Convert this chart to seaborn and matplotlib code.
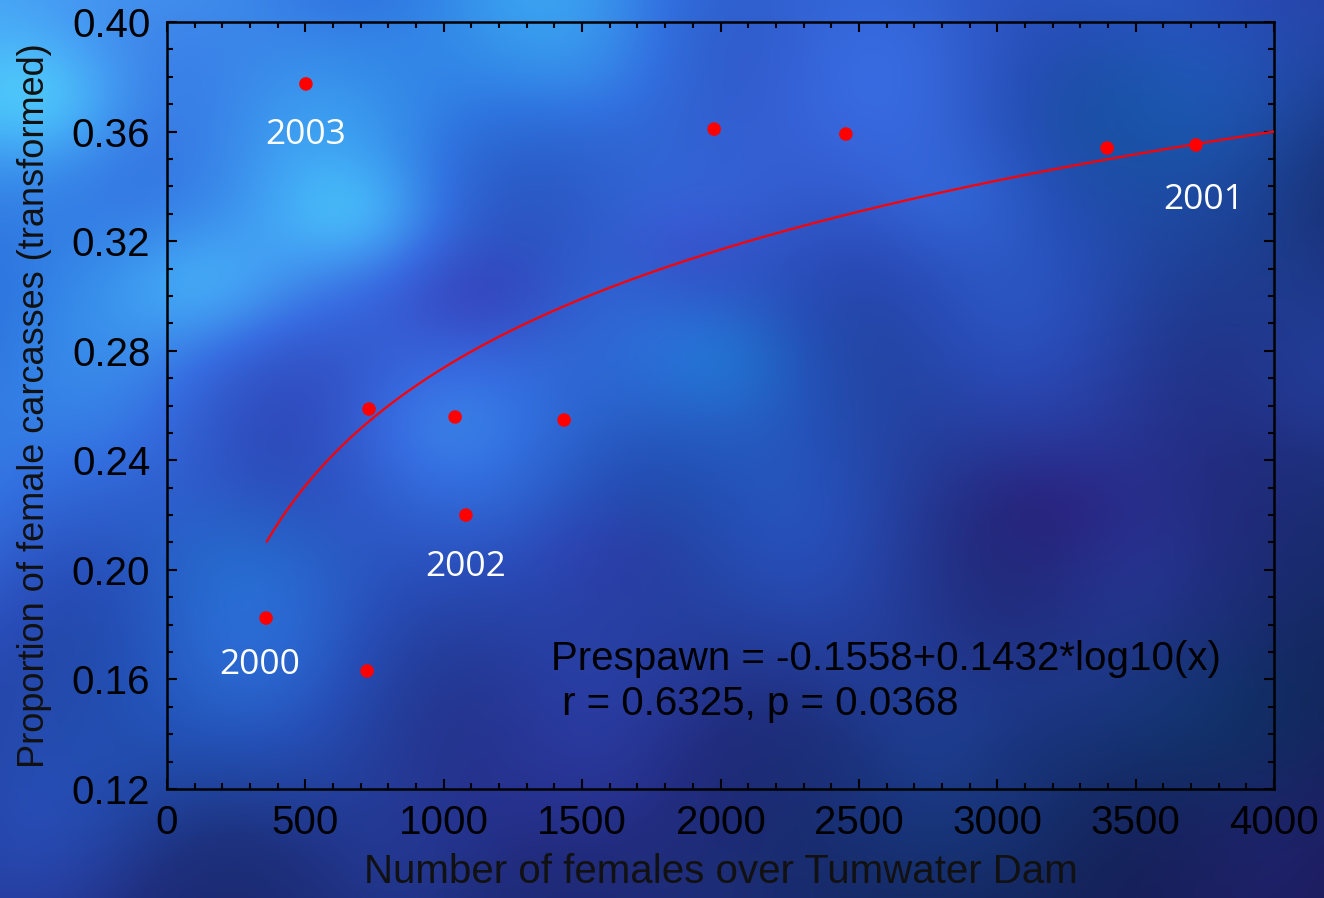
import numpy as np
import pandas as pd
import matplotlib
matplotlib.use("Agg")
import matplotlib.pyplot as plt
from matplotlib.ticker import MultipleLocator
import seaborn as sns

# ---- data ----
females = [502, 1977, 2453, 3397, 3718, 730, 1041, 1435, 1080, 358, 723]
proportion = [0.3774, 0.3609, 0.3591, 0.3540, 0.3551, 0.2587, 0.2558, 0.2547,
              0.2200, 0.1824, 0.1631]
year_labels = ["2003", "2001", "2002", "2000"]
year_label_x = [502, 3745, 1080, 335]
year_label_y = [0.3587, 0.3350, 0.2010, 0.1652]
fit_intercept = -0.1558
fit_slope = 0.1432
fit_x_range = [360, 4000]
x_ticks = [0, 500, 1000, 1500, 2000, 2500, 3000, 3500, 4000]
y_ticks = [0.12, 0.16, 0.20, 0.24, 0.28, 0.32, 0.36, 0.40]
eq_line1 = "Prespawn = -0.1558+0.1432*log10(x)"
eq_line2 = " r = 0.6325, p = 0.0368"

df = pd.DataFrame({"females": females, "proportion": proportion})
fx = np.linspace(fit_x_range[0], fit_x_range[1], 300)
fit_df = pd.DataFrame({"females": fx,
                       "proportion": fit_intercept + fit_slope * np.log10(fx)})

sns.set_theme(style="white")
plt.rcParams["font.family"] = ["Liberation Sans", "DejaVu Sans"]

fig = plt.figure(figsize=(13.24, 8.98), dpi=100)

# ---- decorative mottled blue background (deterministic pattern) ----
bg = fig.add_axes([0, 0, 1, 1], zorder=0)
H, W = 180, 265
yy, xx = np.mgrid[0:1:H * 1j, 0:1:W * 1j]   # yy: 0 at top


def blob(cx, cy, s):
    return np.exp(-((xx - cx) ** 2 + (yy - cy) ** 2) / s)


b = 0.75 - 0.15 * xx - 0.25 * yy - 0.20 * xx ** 2 - 0.20 * yy ** 3
b += 0.045 * np.sin(13 * xx + 2.0) * np.cos(11 * yy + 1.0)
b += 0.035 * np.sin(19 * xx + 14 * yy + 0.5)
b += 0.03 * np.cos(27 * xx - 9 * yy + 1.3)
for cx, cy, s, a in [(0.03, 0.11, 0.005, 0.16), (0.16, 0.32, 0.005, 0.14),
                     (0.27, 0.24, 0.004, 0.12), (0.45, 0.07, 0.006, 0.06),
                     (0.31, 0.48, 0.006, 0.07), (0.55, 0.42, 0.006, 0.05),
                     (0.83, 0.78, 0.005, 0.05), (0.72, 0.22, 0.004, 0.05)]:
    b += a * blob(cx, cy, s)
for cx, cy, s, a in [(0.99, 0.55, 0.01, 0.08), (0.99, 0.20, 0.01, 0.06),
                     (0.35, 0.33, 0.004, 0.06), (0.52, 0.30, 0.004, 0.06),
                     (0.80, 0.56, 0.005, 0.04)]:
    b -= a * blob(cx, cy, s)
b = np.clip(b, 0, 1)

hue = 0.35 * np.sin(10 * xx + 3 * yy + 1.0) * np.cos(8 * yy - 2 * xx + 0.3)
hue += 0.5 * blob(0.36, 0.33, 0.004) + 0.5 * blob(0.52, 0.27, 0.003)
hue += 0.3 * blob(0.80, 0.56, 0.004) + 0.4 * blob(0.46, 0.62, 0.004)
hue -= 0.6 * blob(0.85, 0.12, 0.01) + 0.5 * blob(0.55, 0.40, 0.003)
hue -= 0.5 * blob(0.92, 0.80, 0.01) + 0.4 * blob(0.18, 0.62, 0.005)

stops_b = np.array([0.0, 0.25, 0.45, 0.62, 0.8, 1.0])
stops_c = np.array([[0.09, 0.13, 0.36],
                    [0.12, 0.19, 0.50],
                    [0.16, 0.30, 0.72],
                    [0.20, 0.44, 0.88],
                    [0.26, 0.66, 0.96],
                    [0.32, 0.90, 1.00]])
rgb = np.stack([np.interp(b, stops_b, stops_c[:, k]) for k in range(3)], axis=-1)
rgb[..., 0] += 0.06 * hue
rgb[..., 1] -= 0.07 * hue
rgb = np.clip(rgb, 0, 1)
bg.imshow(rgb, aspect="auto", extent=[0, 1, 0, 1], interpolation="bicubic")
bg.set_axis_off()

# ---- main axes ----
ax = fig.add_axes([167 / 1324, 1 - 789 / 898, (1274 - 167) / 1324, (789 - 22) / 898],
                  zorder=1)
ax.patch.set_alpha(0)

sns.lineplot(data=fit_df, x="females", y="proportion", ax=ax, color="#ff0000",
             linewidth=1.6, zorder=3)
sns.scatterplot(data=df, x="females", y="proportion", ax=ax, color="#ff0000",
                s=95, edgecolor="none", zorder=4)

for lab, lx, ly in zip(year_labels, year_label_x, year_label_y):
    ax.text(lx, ly, lab, color="white", fontsize=25.5, ha="center", va="center",
            family=["Open Sans", "DejaVu Sans"], zorder=5)

ax.text(1388, 0.1634, eq_line1, fontsize=29, color="black", ha="left",
        va="baseline")
ax.text(1388, 0.1470, eq_line2, fontsize=29, color="black", ha="left",
        va="baseline")

ax.set_xlim(0, 4000)
ax.set_ylim(0.12, 0.40)
ax.set_xticks(x_ticks)
ax.set_yticks(y_ticks)
ax.set_xticklabels([str(t) for t in x_ticks])
ax.set_yticklabels([f"{t:.2f}" for t in y_ticks])
ax.xaxis.set_minor_locator(MultipleLocator(100))
ax.yaxis.set_minor_locator(MultipleLocator(0.01))
ax.tick_params(which="both", direction="in", top=True, right=True, bottom=True,
               left=True, colors="black", labelsize=29)
ax.tick_params(which="major", length=7, width=1.5)
ax.tick_params(which="minor", length=4, width=1.5)
ax.tick_params(axis="x", which="major", pad=11)
ax.tick_params(axis="y", which="major", pad=12)
for sp in ax.spines.values():
    sp.set_visible(True)
    sp.set_color("black")
    sp.set_linewidth(1.8)

ax.set_xlabel("Number of females over Tumwater Dam", fontsize=29, color="#111111",
              labelpad=8)
ax.set_ylabel("Proportion of female carcasses (transformed)", fontsize=26,
              color="#111111", labelpad=14)

fig.savefig("out.png", dpi=100)
